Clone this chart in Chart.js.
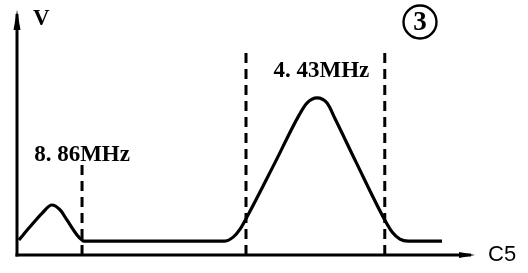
<!DOCTYPE html>
<html>
<head>
<meta charset="utf-8">
<script src="https://cdn.jsdelivr.net/npm/chart.js@4"></script>
<style>
  html, body { margin: 0; padding: 0; background: #fff; }
  #wrap { width: 528px; height: 273px; }
</style>
</head>
<body>
<div id="wrap"><canvas id="c"></canvas></div>
<script>
// ===== Data (arbitrary units) =====
const curveX = [0.4, 2.8, 5.5, 7.6, 9.4, 10.9, 13.1, 14.2, 14.6, 45.4, 47.2, 48.7, 50.2, 56.3, 61.5, 63.3, 65.5, 67.7, 69.5, 74.0, 80.3, 81.9, 83.6, 85.4, 92.8];
const curveY = [6.1, 11.4, 17.1, 20.4, 18.4, 14.3, 8.2, 6.1, 5.7, 5.7, 7.3, 10.6, 15.5, 37.6, 56.8, 62.0, 64.1, 62.0, 55.4, 38.0, 14.3, 9.4, 6.5, 5.7, 5.7];

// dashed markers: x position and top height
const markerX = [14.2, 50.0, 80.3];
const markerTop = [38, 82.9, 82.9];

const labelText = ['8. 86MHz', '4. 43MHz'];
const axisLabels = { y: 'V', x: 'C5' };
const panelNumber = '3';

// ===== Datasets =====
const datasets = [
  {
    label: 'curve',
    data: curveX.map((x, i) => ({ x, y: curveY[i] })),
    borderColor: '#000',
    borderWidth: 3.2,
    pointRadius: 0,
    cubicInterpolationMode: 'monotone',
    fill: false,
  },
];

markerX.forEach((x, i) => {
  datasets.push({
    label: 'marker' + i,
    data: [{ x, y: 0 }, { x, y: markerTop[i] }],
    borderColor: '#000',
    borderWidth: 3,
    borderDash: [10, 6],
    pointRadius: 0,
    fill: false,
  });
});

// ===== Axes, arrows and texts =====
const decorations = {
  id: 'decorations',
  afterDatasetsDraw(chart) {
    const { ctx, scales } = chart;
    const sx = scales.x, sy = scales.y;
    const x0 = sx.getPixelForValue(0);
    const y0 = sy.getPixelForValue(0);
    const xEnd = sx.getPixelForValue(100);
    const yEnd = sy.getPixelForValue(100);

    ctx.save();
    ctx.strokeStyle = '#000';
    ctx.fillStyle = '#000';
    ctx.lineWidth = 3;
    ctx.lineCap = 'butt';

    // y axis
    ctx.beginPath();
    ctx.moveTo(x0, y0 + 1.5);
    ctx.lineTo(x0, yEnd + 4);
    ctx.stroke();
    ctx.beginPath();
    ctx.moveTo(x0, yEnd);
    ctx.lineTo(x0 - 3.5, yEnd + 20);
    ctx.lineTo(x0 + 3.5, yEnd + 20);
    ctx.closePath();
    ctx.fill();

    // x axis
    ctx.beginPath();
    ctx.moveTo(x0 - 1.5, y0);
    ctx.lineTo(xEnd - 4, y0);
    ctx.stroke();
    ctx.beginPath();
    ctx.moveTo(xEnd, y0);
    ctx.lineTo(xEnd - 16, y0 - 3);
    ctx.lineTo(xEnd - 16, y0 + 3);
    ctx.closePath();
    ctx.fill();

    // labels
    ctx.textBaseline = 'alphabetic';
    ctx.font = 'bold 23px "Liberation Serif", serif';
    ctx.textAlign = 'left';
    ctx.fillText(axisLabels.y, x0 + 16, yEnd + 15);

    ctx.font = 'bold 23px "Liberation Serif", serif';
    ctx.textAlign = 'center';
    ctx.fillText(labelText[0], sx.getPixelForValue(markerX[0]), sy.getPixelForValue(markerTop[0]) - 1);
    ctx.fillText(labelText[1], (sx.getPixelForValue(markerX[1]) + sx.getPixelForValue(markerX[2])) / 2 + 6, sy.getPixelForValue(markerTop[1]) + 25);

    ctx.font = '22px "Liberation Sans", sans-serif';
    ctx.textAlign = 'left';
    ctx.fillText(axisLabels.x, xEnd + 13, y0 + 6);

    // circled panel number
    const cx = 420, cy = 22;
    ctx.lineWidth = 2.4;
    ctx.beginPath();
    ctx.arc(cx, cy, 16.5, 0, Math.PI * 2);
    ctx.stroke();
    ctx.font = 'bold 27px "Liberation Serif", serif';
    ctx.textAlign = 'center';
    ctx.textBaseline = 'middle';
    ctx.fillText(panelNumber, cx, cy + 1);
    ctx.restore();
  },
};

// ===== Chart =====
const chart = new Chart(document.getElementById('c').getContext('2d'), {
  type: 'line',
  data: { datasets },
  options: {
    responsive: true,
    maintainAspectRatio: false,
    animation: false,
    layout: { padding: { left: 17, right: 53, top: 10, bottom: 18 } },
    scales: {
      x: { type: 'linear', min: 0, max: 100, display: false },
      y: { type: 'linear', min: 0, max: 100, display: false },
    },
    plugins: {
      legend: { display: false },
      tooltip: { enabled: false },
    },
  },
  plugins: [decorations],
});
</script>
</body>
</html>
